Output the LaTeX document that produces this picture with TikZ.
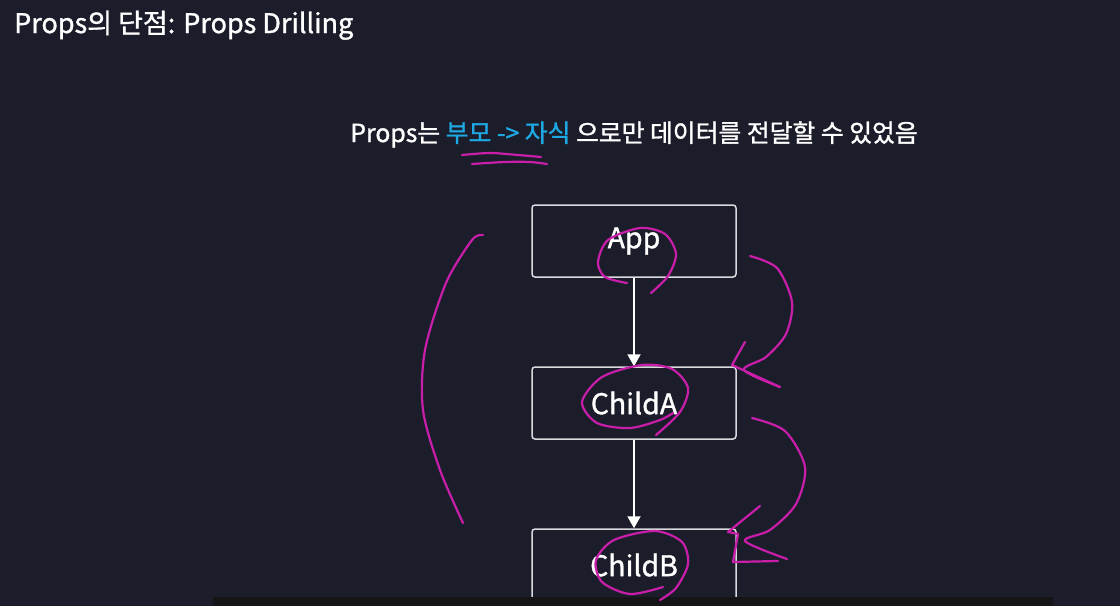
\documentclass[tikz,border=0pt]{standalone}
\usepackage{fontspec}
\setmainfont{Noto Sans CJK KR}[FakeBold=1.2]
\usepackage{tikz}
\usetikzlibrary{arrows.meta, positioning}
\definecolor{bgcolor}{RGB}{28,29,43}
\definecolor{inkcolor}{RGB}{200,30,170}
\definecolor{accent}{RGB}{30,168,228}
\definecolor{barcolor}{RGB}{21,21,23}
\definecolor{boxline}{RGB}{218,218,222}

\begin{document}
\begin{tikzpicture}[
    x=1pt, y=-1pt,
    box/.style={draw=boxline, line width=1.5pt, rounded corners=3pt, fill=bgcolor, minimum width=204pt, minimum height=72pt, text=white, font=\fontsize{28.5}{32}\selectfont},
    arrow/.style={-{Triangle[length=12pt, width=13pt]}, line width=2pt, white},
    ink/.style={draw=inkcolor, line width=2.2pt, line cap=round, line join=round}
]
    % Background
    \fill[bgcolor] (0,0) rectangle (1120,606);
    \useasboundingbox (0,0) rectangle (1120,606);

    % Title and statement
    \node[anchor=base west, text=white, font=\fontsize{27}{30}\selectfont, inner sep=0pt] (title) at (14,33) {Props의 단점: Props Drilling};
    \node[anchor=base, text=white, font=\fontsize{24.8}{30}\selectfont, inner sep=0pt] (claim) at (634,142) {Props는 \textcolor{accent}{부모 -> 자식} 으로만 데이터를 전달할 수 있었음};

    % Component tree
    \node[box] (app) at (634,241) {App};
    \node[box] (childA) at (634,403) {ChildA};
    \node[box] (childB) at (634,565) {ChildB};

    \draw[arrow] (app) -- (childA);
    \draw[arrow] (childA) -- (childB);

    % Subtitle bar at the bottom
    \fill[barcolor] (213,597) rectangle (1053,606);

    % Hand-drawn marks
    \draw[ink] plot[smooth] coordinates {(462,155) (490,153) (518,155) (541,157)};
    \draw[ink] plot[smooth] coordinates {(472,164) (505,162) (530,162) (547,164)};

    \draw[ink] plot[smooth] coordinates {(627,283) (605,277) (598,262) (608,240) (640,228) (665,234) (676,254) (668,276) (651,293)};
    \draw[ink] plot[smooth] coordinates {(656,435) (680,412) (688,388) (672,369) (642,365) (602,377) (582,402) (597,423) (630,428) (660,420) (673,413)};
    \draw[ink] plot[smooth] coordinates {(663,587) (630,594) (602,582) (596,560) (614,540) (655,531) (682,542) (688,564) (676,588) (660,600)};

    \draw[ink] plot[smooth] coordinates {(483,235) (472,240) (446,283) (425,350) (423,410) (440,470) (463,523)};

    \draw[ink] plot[smooth] coordinates {(750,256) (777,268) (792,302) (786,334) (766,357) (744,370) (780,387)};
    \draw[ink] (745,342) -- (732,365) -- (780,387);

    \draw[ink] plot[smooth] coordinates {(752,418) (785,431) (805,467) (796,504) (770,530) (745,541) (787,559)};
    \draw[ink] (760,506) -- (728,532) -- (738,534) -- (733,562) -- (778,561);
\end{tikzpicture}
\end{document}
